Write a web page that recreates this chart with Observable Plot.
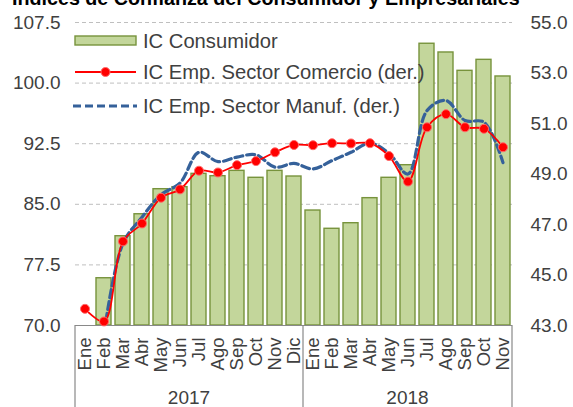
<!DOCTYPE html>
<html><head><meta charset="utf-8">
<script src="https://cdn.jsdelivr.net/npm/d3@7"></script>
<script src="https://cdn.jsdelivr.net/npm/@observablehq/plot@0.6"></script>
<style>body{margin:0;background:#fff;overflow:hidden;} svg{display:block;}</style>
</head><body><div id="chart"></div>
<script>
const title = "Indices de Confianza del Consumidor y Empresariales";
const months = ["Ene","Feb","Mar","Abr","May","Jun","Jul","Ago","Sep","Oct","Nov","Dic",
                "Ene","Feb","Mar","Abr","May","Jun","Jul","Ago","Sep","Oct","Nov"];
const years = ["2017","2018"];
const monthsPerYear = [12, 11];
const icConsumidor = [null, 75.85, 81.05, 83.77, 86.87, 87.12, 88.77, 88.48, 89.14, 88.28, 89.14, 88.44,
                      84.23, 81.97, 82.66, 85.76, 88.28, 89.84, 104.87, 103.79, 101.52, 102.88, 100.82];
const icComercio = [43.66, 43.16, 46.33, 47.04, 48.06, 48.39, 49.13, 49.06, 49.35, 49.51, 49.86, 50.15,
                    50.14, 50.22, 50.21, 50.22, 49.71, 48.70, 50.85, 51.37, 50.85, 50.79, 50.06];
const icManuf = [null, 42.7, 46.25, 47.29, 48.18, 48.64, 49.86, 49.49, 49.67, 49.76, 49.27, 49.42,
                 49.2, 49.53, 49.86, 50.22, 49.82, 49.0, 51.51, 51.91, 51.12, 51.05, 49.45];
const leftTicks = [70, 77.5, 85, 92.5, 100, 107.5];
const rightTicks = [43, 45, 47, 49, 51, 53, 55];
const seriesNames = ["IC Consumidor", "IC Emp. Sector Comercio (der.)", "IC Emp. Sector Manuf. (der.)"];

const L0 = 70, L1 = 107.5, R0 = 43, R1 = 55;
const toLeft = r => L0 + (r - R0) * (L1 - L0) / (R1 - R0);
const fromLeft = l => R0 + (l - L0) * (R1 - R0) / (L1 - L0);

const rows = months.map((m, i) => ({i, month: m, cons: icConsumidor[i], com: icComercio[i], manuf: icManuf[i]}));

const green = "#c3d69b", greenStroke = "#77933c", red = "#ff0000", blue = "#35619a", txt = "#404040";
const font = "'Liberation Sans', Arial, sans-serif";

const chart = Plot.plot({
  width: 573, height: 407,
  marginLeft: 75, marginRight: 61, marginTop: 22, marginBottom: 82,
  style: {fontFamily: font, fontSize: "19px", color: txt, background: "#fff", overflow: "visible"},
  x: {type: "band", domain: d3.range(rows.length), paddingInner: 0.2, paddingOuter: 0.1, axis: null},
  y: {domain: [L0, L1], axis: null},
  marks: [
    Plot.gridY(leftTicks.slice(1), {stroke: "#bfbfbf", strokeOpacity: 1, strokeDasharray: "4,3"}),
    Plot.barY(rows.filter(d => d.cons != null), {x: "i", y1: () => L0, y2: "cons", fill: green, stroke: greenStroke, strokeWidth: 1.4}),
    Plot.ruleY([L0], {stroke: "#898989", strokeWidth: 1.2}),
    Plot.line(rows, {x: "i", y: d => d.manuf == null ? null : toLeft(d.manuf), stroke: blue, strokeWidth: 3.2, strokeDasharray: "8,4", curve: "catmull-rom", clip: true}),
    Plot.line(rows, {x: "i", y: d => toLeft(d.com), stroke: red, strokeWidth: 1.8, curve: "catmull-rom"}),
    Plot.dot(rows, {x: "i", y: d => toLeft(d.com), r: 4.5, fill: red, stroke: "#ff6b6b", strokeWidth: 1}),
    Plot.axisY({anchor: "left", ticks: leftTicks, tickFormat: d => d.toFixed(1), tickSize: 0, tickPadding: 15, fontSize: 19, fill: txt, label: null}),
    Plot.axisY({anchor: "right", ticks: rightTicks.map(toLeft), tickFormat: d => fromLeft(d).toFixed(1), tickSize: 0, tickPadding: 18, fontSize: 19, fill: txt, label: null}),
    Plot.text(rows, {x: "i", y: () => L0, text: "month", rotate: -90, textAnchor: "end", dy: 12, fontSize: 18.5, fill: txt})
  ]
});
document.getElementById("chart").append(chart);

const svg = d3.select(chart);
const xs = chart.scale("x");
const y0 = 325, yb = 407;
const gap = (xs.step - xs.bandwidth) / 2;
const bounds = [xs.range[0]];
let acc = 0;
monthsPerYear.forEach(n => { acc += n; bounds.push(acc < rows.length ? xs.apply(acc) - gap : xs.range[1]); });
const g = svg.append("g");
bounds.forEach(b => g.append("line").attr("x1", b).attr("x2", b).attr("y1", y0).attr("y2", yb).attr("stroke", "#898989").attr("stroke-width", 1.2));
years.forEach((yr, k) => g.append("text").attr("x", (bounds[k] + bounds[k + 1]) / 2).attr("y", 404)
  .attr("text-anchor", "middle").attr("font-size", 19).attr("fill", txt).attr("font-family", font).text(yr));

// title
svg.append("text").attr("x", 12).attr("y", 5).attr("text-anchor", "start").attr("font-size", 19.7).attr("font-weight", "bold")
  .attr("fill", "#000").attr("font-family", font).text(title);

// legend
const lg = svg.append("g").attr("font-family", font).attr("font-size", 20.2).attr("fill", txt).attr("text-anchor", "start");
lg.append("rect").attr("x", 75).attr("y", 36).attr("width", 61).attr("height", 9).attr("fill", green).attr("stroke", greenStroke).attr("stroke-width", 1.4);
lg.append("line").attr("x1", 75).attr("x2", 136).attr("y1", 72).attr("y2", 72).attr("stroke", red).attr("stroke-width", 1.8);
lg.append("circle").attr("cx", 105.5).attr("cy", 72).attr("r", 4.5).attr("fill", red).attr("stroke", "#ff6b6b");
lg.append("line").attr("x1", 73).attr("x2", 137).attr("y1", 106).attr("y2", 106).attr("stroke", blue).attr("stroke-width", 3.2).attr("stroke-dasharray", "8,4");
[41, 72, 106].forEach((yy, k) => lg.append("text").attr("x", 143).attr("y", yy).attr("dy", "0.35em").text(seriesNames[k]));
</script>
</body></html>
